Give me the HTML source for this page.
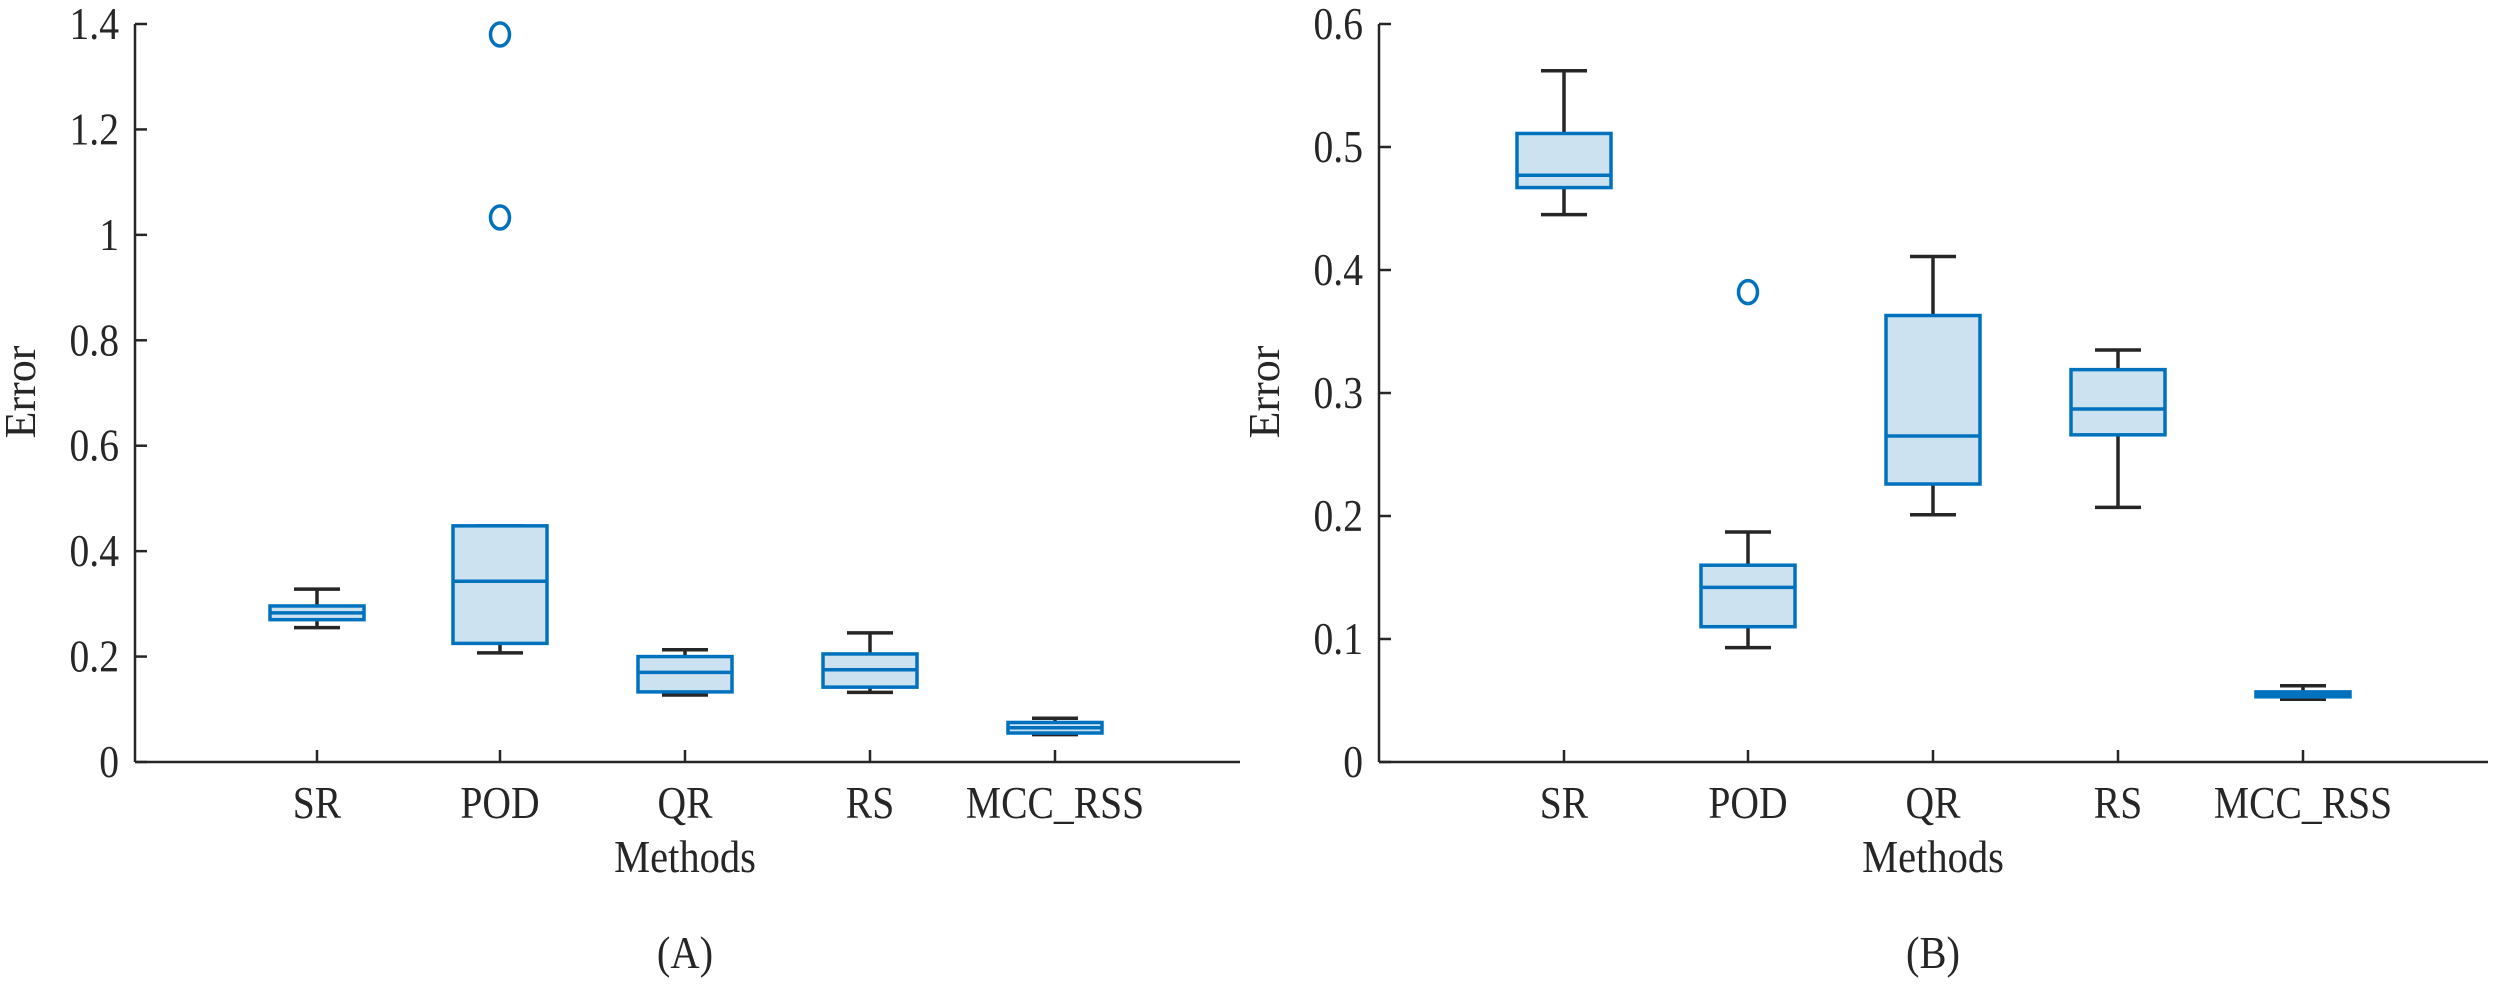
<!DOCTYPE html>
<html><head><meta charset="utf-8"><style>
html,body{margin:0;padding:0;background:#fff;}
svg{display:block;}
text{font-family:"Liberation Serif",serif;fill:#262626;}
</style></head><body>
<svg id="s" width="2500" height="985" xmlns="http://www.w3.org/2000/svg"></svg>
<script>
const s=document.getElementById('s');let h='';
const K=0.88;
function T(x,y,size,anchor,t){return `<text transform="translate(${x},${y}) scale(${K},1)" font-size="${size}" text-anchor="${anchor}">${t}</text>`;}
function panel(ax,axEnd,ticksX,ymax,step,data,label){
  const y0=762,yt=24,sc=(y0-yt)/ymax;
  const Y=v=>y0-v*sc;
  h+=`<line x1="${ax}" y1="${yt}" x2="${ax}" y2="${y0}" stroke="#262626" stroke-width="2.5"/>`;
  h+=`<line x1="${ax}" y1="${y0}" x2="${axEnd}" y2="${y0}" stroke="#262626" stroke-width="2.5"/>`;
  for(let v=0;v<=ymax+1e-9;v+=step){const y=Y(v);
    h+=`<line x1="${ax}" y1="${y}" x2="${ax+12}" y2="${y}" stroke="#262626" stroke-width="2.5"/>`;
    let t=v<1e-9?'0':(Math.abs(v-Math.round(v))<1e-9?String(Math.round(v)):v.toFixed(1));
    h+=T(ax-16,y+15,45,'end',t);}
  const names=['SR','POD','QR','RS','MCC_RSS'];
  ticksX.forEach((x,i)=>{
    h+=`<line x1="${x}" y1="${y0}" x2="${x}" y2="${y0-12}" stroke="#262626" stroke-width="2.5"/>`;
    h+=T(x,818,45,'middle',names[i]);
    const d=data[i];const hw=47,cw=23;
    h+=`<line x1="${x}" y1="${Y(d[0])}" x2="${x}" y2="${Y(d[1])}" stroke="#262626" stroke-width="3.5"/>`;
    h+=`<line x1="${x}" y1="${Y(d[4])}" x2="${x}" y2="${Y(d[3])}" stroke="#262626" stroke-width="3.5"/>`;
    h+=`<line x1="${x-cw}" y1="${Y(d[0])}" x2="${x+cw}" y2="${Y(d[0])}" stroke="#262626" stroke-width="3.5"/>`;
    h+=`<line x1="${x-cw}" y1="${Y(d[4])}" x2="${x+cw}" y2="${Y(d[4])}" stroke="#262626" stroke-width="3.5"/>`;
    h+=`<rect x="${x-hw}" y="${Y(d[3])}" width="${2*hw}" height="${Y(d[1])-Y(d[3])}" fill="#cde2f1" stroke="#0072bd" stroke-width="3.5"/>`;
    h+=`<line x1="${x-hw}" y1="${Y(d[2])}" x2="${x+hw}" y2="${Y(d[2])}" stroke="#0072bd" stroke-width="3.5"/>`;
    (d[5]||[]).forEach(o=>{h+=`<ellipse cx="${x}" cy="${Y(o)}" rx="9.5" ry="11.5" fill="none" stroke="#0072bd" stroke-width="3.5"/>`;});
  });
  h+=T(ticksX[2],872,46,'middle','Methods');
  h+=`<text transform="translate(${ax-100},392) rotate(-90)" font-size="44" text-anchor="middle">Error</text>`;
  h+=T(ticksX[2],968,46,'middle',label);
}
panel(135,1240,[317,500,685,870,1055],1.4,0.2,[
 [0.255,0.27,0.283,0.296,0.328],
 [0.207,0.225,0.343,0.448,0.448,[1.38,1.033]],
 [0.127,0.133,0.17,0.2,0.213],
 [0.132,0.142,0.175,0.205,0.245],
 [0.052,0.055,0.065,0.075,0.083]],'(A)');
panel(1379,2488,[1564,1748,1933,2118,2303],0.6,0.1,[
 [0.445,0.467,0.477,0.511,0.562],
 [0.093,0.11,0.142,0.16,0.187,[0.382]],
 [0.201,0.226,0.265,0.363,0.411],
 [0.207,0.266,0.287,0.319,0.335],
 [0.051,0.053,0.055,0.057,0.062]],'(B)');
s.innerHTML=h;
</script>
</body></html>
